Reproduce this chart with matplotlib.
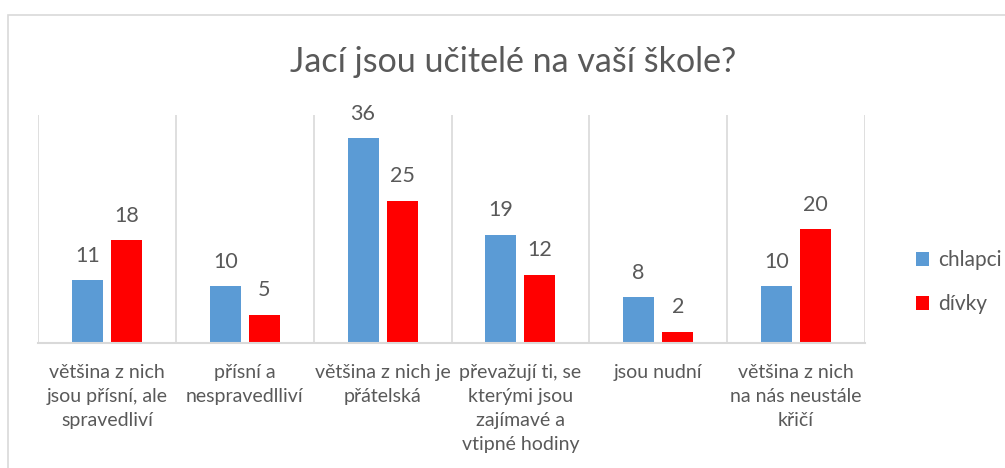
import matplotlib
matplotlib.use("Agg")
import matplotlib.pyplot as plt
import numpy as np
from matplotlib.patches import Rectangle

# Data
categories = [
    "většina z nich\njsou přísní, ale\nspravedliví",
    "přísní a\nnespravedlliví",
    "většina z nich je\npřátelská",
    "převažují ti, se\nkterými jsou\nzajímavé a\nvtipné hodiny",
    "jsou nudní",
    "většina z nich\nna nás neustále\nkřičí",
]
chlapci = [11, 10, 36, 19, 8, 10]
divky = [18, 5, 25, 12, 2, 20]

TEXT = "#595959"
GRID = "#D9D9D9"
plt.rcParams["font.family"] = ["Lato", "DejaVu Sans"]

fig = plt.figure(figsize=(10.05, 4.68), dpi=100)

# outer chart border (right/bottom cut off in the reference)
fig.patches.append(Rectangle((8 / 1005, -0.1), 1.2, 1 - 15 / 468 + 0.1,
                             transform=fig.transFigure, fill=False,
                             edgecolor=GRID, linewidth=1.2))

ax = fig.add_axes([38 / 1005, 1 - 343 / 468, (865 - 38) / 1005, (343 - 115) / 468])

x = np.arange(len(categories))
w = 0.225
off = 0.142
b1 = ax.bar(x - off, chlapci, w, color="#5B9BD5", label="chlapci")
b2 = ax.bar(x + off, divky, w, color="#FF0000", label="dívky")

for bars in (b1, b2):
    for r in bars:
        ax.text(r.get_x() + r.get_width() / 2, r.get_height() + 3.2,
                f"{int(r.get_height())}", ha="center", va="baseline",
                fontsize=15.5, color=TEXT)

ax.set_xlim(-0.5, len(categories) - 0.5)
ax.set_ylim(0, 40)
ax.set_yticks([])
ax.set_xticks([])

for b in np.arange(-0.5, len(categories), 1.0):
    ax.axvline(b, color=GRID, linewidth=1.2, zorder=0)

for s in ["top", "left", "right"]:
    ax.spines[s].set_visible(False)
ax.spines["bottom"].set_color(GRID)
ax.spines["bottom"].set_linewidth(1.5)

for i, c in enumerate(categories):
    ax.text(i, -3.6, c, ha="center", va="top", fontsize=14, color=TEXT,
            linespacing=1.5)

fig.text(513 / 1005, 1 - 62 / 468, "Jací jsou učitelé na vaší škole?",
         ha="center", va="center", fontsize=24.5, color=TEXT)

leg = fig.legend(loc="center left", bbox_to_anchor=(897 / 1005, 1 - 282 / 468),
                 frameon=False, fontsize=15, labelcolor=TEXT,
                 handlelength=0.65, handleheight=0.65, handletextpad=0.4,
                 labelspacing=1.15)

fig.savefig("out.png", dpi=100)
